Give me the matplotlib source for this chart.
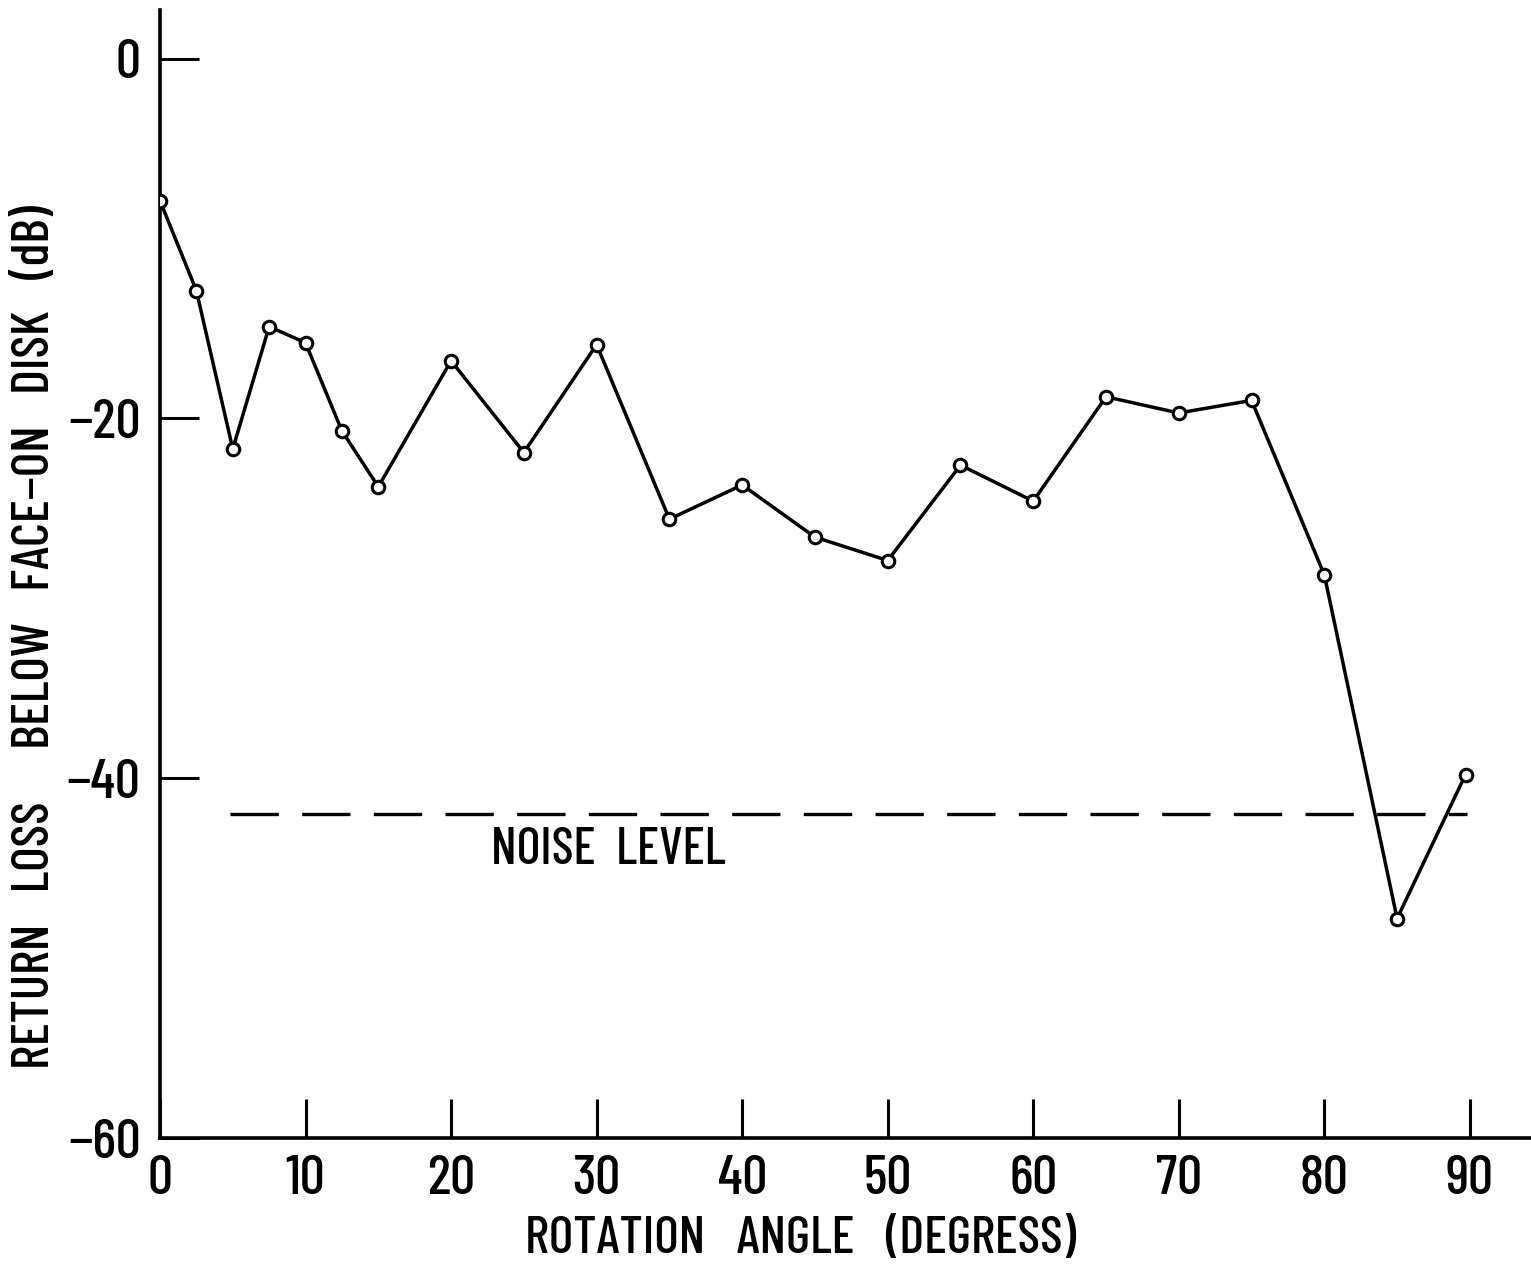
import matplotlib
matplotlib.use('Agg')
import matplotlib.pyplot as plt

# 데이터
angle = [0, 2.5, 5, 7.5, 10, 12.5, 15, 20, 25, 30, 35, 40, 45, 50,
         55, 60, 65, 70, 75, 80, 85, 89.7]
loss = [-7.9, -12.9, -21.7, -14.9, -15.8, -20.7, -23.8, -16.8, -21.9, -15.9,
        -25.6, -23.7, -26.6, -27.9, -22.6, -24.6, -18.8, -19.7, -19.0, -28.7,
        -47.8, -39.8]
noise_level = -42.0
noise_x = [4.8, 89.8]
xticks = [0, 10, 20, 30, 40, 50, 60, 70, 80, 90]
yticks = [0, -20, -40, -60]
ytick_labels = ['0', '\u221220', '\u221240', '\u221260']

# 좁은 글꼴 (원본의 레터링 느낌)
plt.rcParams['font.family'] = ['Barlow Condensed', 'DejaVu Sans']
plt.rcParams['font.weight'] = 'medium'
plt.rcParams['axes.labelweight'] = 'medium'

fig = plt.figure(figsize=(15.31, 12.64), dpi=100)
ax = fig.add_axes([160 / 1531, 126 / 1264, 1371 / 1531, 1128 / 1264])

ax.plot(angle, loss, color='black', linewidth=2.5, marker='o', markersize=9,
        markerfacecolor='white', markeredgecolor='black', markeredgewidth=2.2,
        zorder=3)

# 노이즈 레벨 기준선
ax.plot(noise_x, [noise_level, noise_level], color='black', linewidth=2.4,
        dashes=(14.5, 7))
ax.text(30.8, -44.0, 'NOISE  LEVEL', ha='center', va='center', fontsize=37)

ax.set_xlim(0, 94.2)
ax.set_ylim(-60, 2.7)
ax.set_xticks(xticks)
ax.set_yticks(yticks)
ax.set_yticklabels(ytick_labels)

for side in ['top', 'right']:
    ax.spines[side].set_visible(False)
for side in ['left', 'bottom']:
    ax.spines[side].set_linewidth(2.6)

ax.tick_params(axis='both', direction='in', length=28, width=2.2,
               labelsize=40, pad=14)
ax.tick_params(axis='x', pad=12)

ax.set_xlabel('ROTATION   ANGLE   (DEGRESS)', fontsize=38)
ax.set_ylabel('RETURN   LOSS     BELOW   FACE\u2212ON   DISK   (dB)', fontsize=38)
ax.xaxis.set_label_coords(0.467, -0.069)
ax.yaxis.set_label_coords(-0.074, 0.444)

fig.savefig('out.png', dpi=100)
